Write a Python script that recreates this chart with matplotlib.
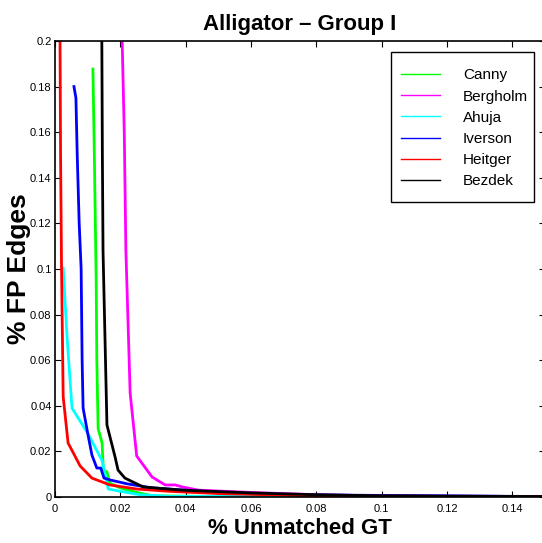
import matplotlib
matplotlib.use("Agg")
import matplotlib.pyplot as plt
from matplotlib.patches import Rectangle
from matplotlib.ticker import FormatStrFormatter

plt.rcParams['font.family'] = ['Liberation Sans', 'DejaVu Sans']

# (x = % unmatched GT, y = % FP edges)
canny_x = [0.0116, 0.0120, 0.0126, 0.0128, 0.0132, 0.0144, 0.0148, 0.0159, 0.0168, 0.020, 0.025, 0.030, 0.05, 0.15]
canny_y = [0.1877, 0.154, 0.095, 0.06, 0.030, 0.0237, 0.0118, 0.011, 0.006, 0.004, 0.002, 0.0005, 0.0002, 0.0]

bergholm_x = [0.0204, 0.0212, 0.0217, 0.023, 0.025, 0.0297, 0.0337, 0.0368, 0.039, 0.044, 0.06, 0.08, 0.10, 0.15]
bergholm_y = [0.21, 0.16, 0.108, 0.0456, 0.018, 0.0088, 0.0053, 0.0053, 0.0044, 0.003, 0.002, 0.001, 0.0005, 0.0002]

ahuja_x = [0.0025, 0.0037, 0.0052, 0.0100, 0.0144, 0.0163, 0.020, 0.026, 0.035, 0.15]
ahuja_y = [0.1004, 0.070, 0.039, 0.028, 0.016, 0.0035, 0.0025, 0.001, 0.0003, 0.0]

iverson_x = [0.0058, 0.0064, 0.0068, 0.0074, 0.0080, 0.0083, 0.0086, 0.0100, 0.0113, 0.0128, 0.0140,
             0.0150, 0.0168, 0.022, 0.0297, 0.04, 0.05, 0.07, 0.15]
iverson_y = [0.180, 0.175, 0.15, 0.12, 0.10, 0.06, 0.039, 0.028, 0.0184, 0.0127, 0.0127,
             0.0083, 0.0075, 0.0058, 0.004, 0.003, 0.002, 0.001, 0.0002]

heitger_x = [0.0015, 0.0017, 0.0020, 0.0025, 0.0040, 0.0077, 0.0113, 0.0168, 0.025, 0.035, 0.05, 0.08, 0.15]
heitger_y = [0.21, 0.15, 0.10, 0.044, 0.0237, 0.0136, 0.0083, 0.0053, 0.0035, 0.0025, 0.0015, 0.0005, 0.0001]

bezdek_x = [0.0143, 0.0145, 0.0147, 0.0159, 0.0184, 0.0193, 0.0214, 0.027, 0.039, 0.06, 0.08, 0.10, 0.15]
bezdek_y = [0.21, 0.15, 0.108, 0.0316, 0.0175, 0.0118, 0.0083, 0.0044, 0.003, 0.0018, 0.001, 0.0005, 0.0002]

x_ticks = [0, 0.02, 0.04, 0.06, 0.08, 0.1, 0.12, 0.14]
y_ticks = [0, 0.02, 0.04, 0.06, 0.08, 0.1, 0.12, 0.14, 0.16, 0.18, 0.2]

series = [
    ("Canny", canny_x, canny_y, "#00ff00"),
    ("Bergholm", bergholm_x, bergholm_y, "#ff00ff"),
    ("Ahuja", ahuja_x, ahuja_y, "#00ffff"),
    ("Iverson", iverson_x, iverson_y, "#0000ff"),
    ("Heitger", heitger_x, heitger_y, "#ff0000"),
    ("Bezdek", bezdek_x, bezdek_y, "#000000"),
]

fig = plt.figure(figsize=(5.42, 5.43), dpi=100)
ax = fig.add_axes([0.1015, 0.0847, 0.904, 0.8398])

for name, xs, ys, col in series:
    ax.plot(xs, ys, color=col, linewidth=2.0, label=name)

ax.set_xlim(0, 0.15)
ax.set_ylim(0, 0.2)
ax.set_xticks(x_ticks)
ax.set_yticks(y_ticks)
ax.xaxis.set_major_formatter(FormatStrFormatter('%g'))
ax.yaxis.set_major_formatter(FormatStrFormatter('%g'))
ax.tick_params(direction='in', top=True, right=True, length=4, labelsize=8)
ax.tick_params(axis='x', pad=5)
ax.tick_params(axis='y', pad=2.5)
for sp in ax.spines.values():
    sp.set_linewidth(1.2)

ax.set_title("Alligator \u2013 Group I", fontsize=16, fontweight='bold', pad=8)
ax.set_xlabel("% Unmatched GT", fontsize=16, fontweight='bold', labelpad=3)
ax.set_ylabel("% FP Edges", fontsize=19, fontweight='bold', labelpad=-1)

# legend box drawn separately so the padding matches the original
ax.add_patch(Rectangle((0.6857, 0.6469), 0.2919, 0.329, transform=ax.transAxes,
                       facecolor='white', edgecolor='black', linewidth=1.0, zorder=4.5))
leg = ax.legend(loc='upper left', bbox_to_anchor=(0.7061, 0.940), borderaxespad=0,
                borderpad=0, fontsize=11, handlelength=2.55, handletextpad=1.5,
                labelspacing=0.47, frameon=False)
for line in leg.get_lines():
    line.set_linewidth(1.0)

fig.savefig("out.png", dpi=100)
